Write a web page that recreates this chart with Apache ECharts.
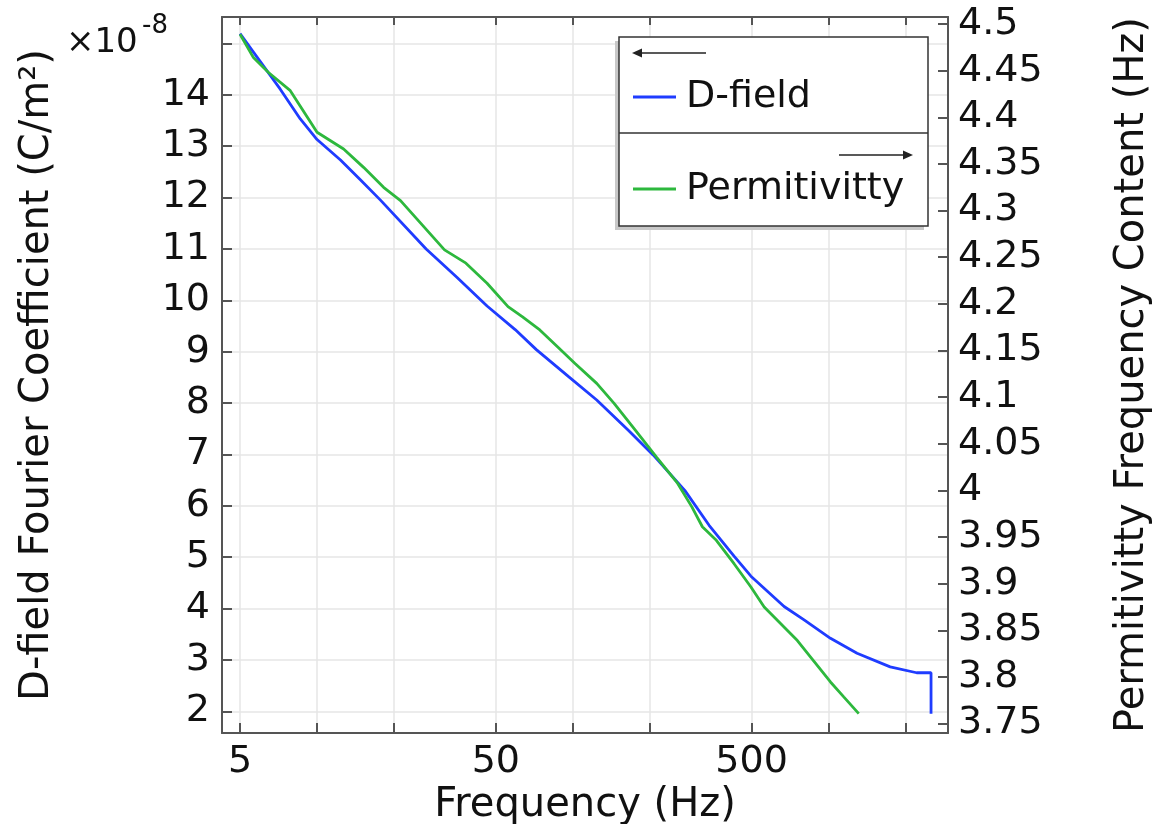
<!DOCTYPE html>
<html>
<head>
<meta charset="utf-8">
<title>D-field Fourier Coefficient</title>
<script src="https://cdn.jsdelivr.net/npm/echarts@6/dist/echarts.min.js"></script>
<style>
html, body { margin: 0; padding: 0; background: #fff; }
#echart_dfield { width: 1155px; height: 824px; }
</style>
</head>
<body>
<div id="echart_dfield"></div>
<script>
// frequency axis (Hz), log
var freqTicks = [5, 10, 20, 50, 100, 200, 500, 1000, 2000];
var freqLabels = [5, 50, 500];
// left axis, x10^-8 C/m^2
var dTicks = [2, 3, 4, 5, 6, 7, 8, 9, 10, 11, 12, 13, 14, 15];
var dLabels = [2, 3, 4, 5, 6, 7, 8, 9, 10, 11, 12, 13, 14];
// right axis, Hz
var permTicks = [3.75, 3.8, 3.85, 3.9, 3.95, 4, 4.05, 4.1, 4.15, 4.2, 4.25, 4.3, 4.35, 4.4, 4.45, 4.5];

// D-field
var dFreq = [5, 5.64, 7.18, 8.6, 10, 12.35, 14.8, 17.7, 26.7, 35.2, 46.2, 59.5, 72, 96, 124, 164, 206, 274, 341, 427, 497, 670, 802, 1017, 1292, 1741, 2209, 2515, 2515];
var dField = [15.19, 14.83, 14.11, 13.53, 13.13, 12.73, 12.34, 11.95, 11.0, 10.45, 9.89, 9.43, 9.04, 8.52, 8.06, 7.48, 6.99, 6.30, 5.62, 5.02, 4.63, 4.04, 3.78, 3.42, 3.13, 2.865, 2.75, 2.75, 1.95];

// Permitivitty
var pFreq = [5, 5.64, 6.46, 7.86, 10, 12.7, 15.2, 18.2, 21.2, 31.5, 38.2, 46.2, 55.8, 63.4, 74.3, 87.1, 102, 124, 145, 175.5, 212, 257, 292, 321, 364, 427, 497, 560, 755, 852, 1017, 1146, 1312];
var pPerm = [4.489, 4.464, 4.448, 4.4285, 4.384, 4.366, 4.3463, 4.3249, 4.3106, 4.2578, 4.2436, 4.2221, 4.197, 4.1862, 4.172, 4.154, 4.136, 4.1147, 4.0932, 4.0645, 4.036, 4.0074, 3.9823, 3.961, 3.9465, 3.9214, 3.8964, 3.875, 3.839, 3.821, 3.7946, 3.7786, 3.7607];

var FONT = 'DejaVu Sans';
var axisColor = '#555';

function pairs(xs, ys) {
    return xs.map(function(x, i) { return [x, ys[i]]; });
}

var chart = echarts.init(document.getElementById('echart_dfield'));

var option = {
    animation: false,
    textStyle: { fontFamily: FONT },
    grid: {
        left: 222,
        right: 207,
        top: 17,
        bottom: 91,
        containLabel: false,
        outerBoundsMode: 'none'
    },
    legend: {
        data: ['D-field', 'Permitivitty'],
        orient: 'vertical',
        left: 633,
        top: 77,
        padding: 0,
        itemGap: 52,
        itemWidth: 43,
        itemHeight: 3,
        icon: 'rect',
        z: 5,
        textStyle: {
            fontFamily: FONT,
            fontSize: 38,
            lineHeight: 40,
            color: '#111',
            padding: [0, 0, 0, 5]
        }
    },
    xAxis: [{
        type: 'log',
        logBase: 10,
        min: 4.25,
        max: 2930,
        position: 'bottom',
        name: 'Frequency (Hz)',
        nameLocation: 'middle',
        nameGap: 46,
        nameTextStyle: { fontFamily: FONT, fontSize: 40, color: '#111' },
        axisLine: { show: true, lineStyle: { color: axisColor, width: 2 } },
        axisTick: { show: true, inside: true, length: 10, customValues: freqTicks, lineStyle: { color: axisColor, width: 2 } },
        axisLabel: {
            customValues: freqLabels,
            margin: 10,
            fontFamily: FONT,
            fontSize: 38,
            color: '#111',
            formatter: function(v) { return String(Math.round(v)); }
        },
        splitLine: { show: true, lineStyle: { color: '#e6e6e6', width: 1.5 } },
        minorTick: { show: false }
    }, {
        type: 'log',
        logBase: 10,
        min: 4.25,
        max: 2930,
        position: 'top',
        axisLine: { show: true, lineStyle: { color: axisColor, width: 2 } },
        axisTick: { show: true, inside: true, length: 8, customValues: freqTicks, lineStyle: { color: axisColor, width: 2 } },
        axisLabel: { show: false },
        splitLine: { show: false }
    }],
    yAxis: [{
        type: 'value',
        min: 1.577,
        max: 15.515,
        position: 'left',
        name: 'D-field Fourier Coefficient (C/m\u00b2)',
        nameLocation: 'middle',
        nameRotate: 90,
        nameGap: 164,
        nameTextStyle: { fontFamily: FONT, fontSize: 40, color: '#111' },
        axisLine: { show: true, lineStyle: { color: axisColor, width: 2 } },
        axisTick: { show: true, inside: true, length: 10, customValues: dTicks, lineStyle: { color: axisColor, width: 2 } },
        axisLabel: {
            customValues: dLabels,
            margin: 12,
            fontFamily: FONT,
            fontSize: 38,
            color: '#111'
        },
        splitLine: { show: true, lineStyle: { color: '#e6e6e6', width: 1.5 } }
    }, {
        type: 'value',
        min: 3.7399,
        max: 4.5075,
        position: 'right',
        name: 'Permitivitty Frequency Content (Hz)',
        nameLocation: 'middle',
        nameRotate: 90,
        nameGap: 165,
        nameTextStyle: { fontFamily: FONT, fontSize: 40, color: '#111' },
        axisLine: { show: true, lineStyle: { color: axisColor, width: 2 } },
        axisTick: { show: true, inside: true, length: 10, customValues: permTicks, lineStyle: { color: axisColor, width: 2 } },
        axisLabel: {
            customValues: permTicks,
            margin: 10,
            fontFamily: FONT,
            fontSize: 38,
            color: '#111',
            formatter: function(v) { return String(parseFloat(v.toFixed(2))); }
        },
        splitLine: { show: false }
    }],
    graphic: [
        // x10^-8 multiplier
        { type: 'text', x: 66, y: 43, style: { text: '\u00d710', font: '34px "DejaVu Sans"', fill: '#111', verticalAlign: 'middle' } },
        { type: 'text', x: 142, y: 26, style: { text: '-8', font: '26px "DejaVu Sans"', fill: '#111', verticalAlign: 'middle' } },
        // legend box
        { type: 'rect', z: 3, shape: { x: 615, y: 41, width: 309, height: 189 }, style: { fill: '#c8c8c8' } },
        { type: 'rect', z: 3, shape: { x: 619, y: 37, width: 309, height: 189 }, style: { fill: '#fff', stroke: '#333', lineWidth: 1.5 } },
        { type: 'line', z: 3, shape: { x1: 619, y1: 133, x2: 928, y2: 133 }, style: { stroke: '#333', lineWidth: 1.5 } },
        { type: 'line', z: 3, shape: { x1: 638, y1: 53, x2: 706, y2: 53 }, style: { stroke: '#222', lineWidth: 1.5 } },
        { type: 'polygon', z: 3, shape: { points: [[632, 53], [642, 48.5], [642, 57.5]] }, style: { fill: '#222' } },
        { type: 'line', z: 3, shape: { x1: 839, y1: 155, x2: 907, y2: 155 }, style: { stroke: '#222', lineWidth: 1.5 } },
        { type: 'polygon', z: 3, shape: { points: [[913, 155], [903, 150.5], [903, 159.5]] }, style: { fill: '#222' } }
    ],
    series: [{
        name: 'D-field',
        type: 'line',
        xAxisIndex: 0,
        yAxisIndex: 0,
        symbol: 'none',
        color: '#1f3cff',
        lineStyle: { color: '#1f3cff', width: 2.8 },
        data: pairs(dFreq, dField)
    }, {
        name: 'Permitivitty',
        type: 'line',
        xAxisIndex: 0,
        yAxisIndex: 1,
        symbol: 'none',
        color: '#2db83d',
        lineStyle: { color: '#2db83d', width: 2.8 },
        data: pairs(pFreq, pPerm)
    }]
};

chart.setOption(option);
</script>
</body>
</html>
